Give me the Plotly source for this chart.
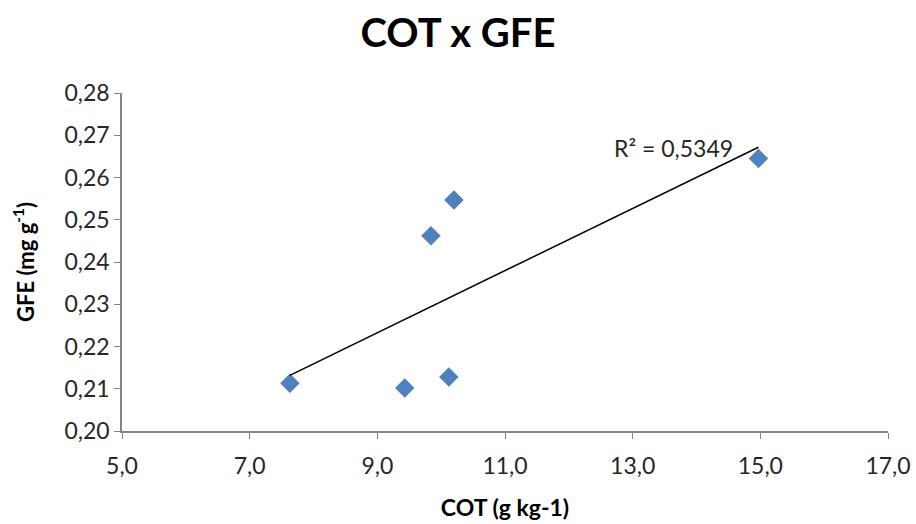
import numpy as np
import plotly.graph_objects as go

# Data
cot = [7.63, 9.43, 9.84, 10.12, 10.20, 14.97]
gfe = [0.2113, 0.2102, 0.2462, 0.2128, 0.2547, 0.2645]
x_ticks = [5, 7, 9, 11, 13, 15, 17]
x_tick_labels = ["5,0", "7,0", "9,0", "11,0", "13,0", "15,0", "17,0"]
y_ticks = [0.20, 0.21, 0.22, 0.23, 0.24, 0.25, 0.26, 0.27, 0.28]
y_tick_labels = ["0,20", "0,21", "0,22", "0,23", "0,24", "0,25", "0,26", "0,27", "0,28"]
r2_label = "R² = 0,5349"

# Linear trendline from the data
slope, intercept = np.polyfit(cot, gfe, 1)
tx = [min(cot), max(cot)]
ty = [slope * v + intercept for v in tx]

FONT = "Lato, 'Open Sans', sans-serif"

fig = go.Figure()
fig.add_trace(go.Scatter(
    x=cot, y=gfe, mode="markers",
    marker=dict(symbol="diamond", size=15, color="#4F81BD",
                line=dict(width=0)),
    showlegend=False, hoverinfo="skip", cliponaxis=False))
fig.add_trace(go.Scatter(
    x=tx, y=ty, mode="lines",
    line=dict(color="black", width=1.5),
    showlegend=False, hoverinfo="skip"))

fig.add_annotation(x=14.6, y=0.2670, xref="x", yref="y", text=r2_label,
                   showarrow=False, xanchor="right", yanchor="middle",
                   font=dict(family=FONT, size=23, color="#262626"))

fig.update_layout(
    width=916, height=524,
    margin=dict(l=122, r=28, t=93, b=93, autoexpand=False),
    paper_bgcolor="white", plot_bgcolor="white",
    title=dict(text="<b>COT x GFE</b>", x=0.5, xanchor="center",
               y=0.937, yanchor="middle",
               font=dict(family=FONT, size=40, color="black")),
    xaxis=dict(range=[5, 17], tickvals=x_ticks, ticktext=x_tick_labels,
               automargin=False,
               showgrid=False, zeroline=False, showline=True,
               linecolor="#868686", linewidth=1.5,
               ticks="outside", ticklen=6, tickcolor="#868686",
               ticklabelstandoff=8,
               tickfont=dict(family=FONT, size=23, color="#262626"),
               title=dict(text="<b>COT (g kg-1)</b>", standoff=22,
                          font=dict(family=FONT, size=23, color="black"))),
    yaxis=dict(range=[0.20, 0.28], tickvals=y_ticks, ticktext=y_tick_labels,
               automargin=False,
               showgrid=False, zeroline=False, showline=True,
               linecolor="#868686", linewidth=1.5,
               ticks="outside", ticklen=6, tickcolor="#868686",
               tickfont=dict(family=FONT, size=23, color="#262626"),
               title=dict(text="<b>GFE (mg g<sup>-1</sup>)</b>", standoff=24,
                          font=dict(family=FONT, size=22, color="black"))),
)

fig.write_html("out.html",
               config={"displayModeBar": False},
               post_script="document.body.style.margin='0px';")
